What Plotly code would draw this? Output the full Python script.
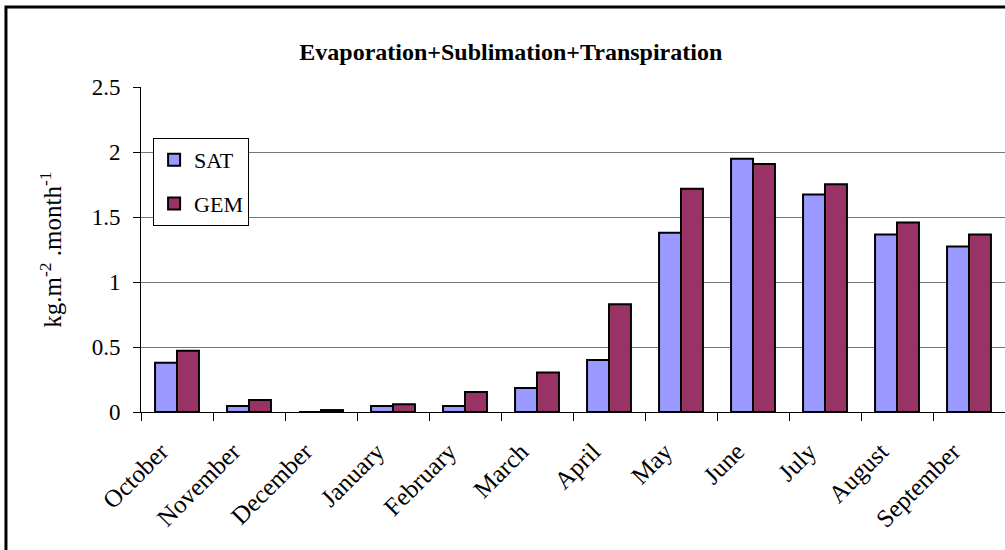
import plotly.graph_objects as go

# monthly totals (kg m-2 month-1)
months = ['October', 'November', 'December', 'January', 'February', 'March',
          'April', 'May', 'June', 'July', 'August', 'September']
sat = [0.38, 0.046, 0.0, 0.046, 0.046, 0.185, 0.40, 1.38, 1.95, 1.675, 1.367, 1.274]
gem = [0.472, 0.092, 0.015, 0.06, 0.154, 0.305, 0.83, 1.72, 1.91, 1.754, 1.459, 1.367]

font_name = 'Liberation Serif'

fig = go.Figure()
fig.add_trace(go.Bar(x=months, y=sat, name='SAT', legendgroup='a',
                     marker=dict(color='#9999FF', line=dict(color='black', width=2))))
fig.add_trace(go.Bar(x=months, y=gem, name='GEM', legendgroup='b',
                     marker=dict(color='#993366', line=dict(color='black', width=2))))

fig.update_layout(
    width=1005, height=550,
    margin=dict(l=141, r=0, t=87, b=138),
    paper_bgcolor='white', plot_bgcolor='white',
    font=dict(family=font_name, size=22, color='black'),
    barmode='group', bargap=0.39, bargroupgap=0,
    title=dict(text='<b>Evaporation+Sublimation+Transpiration</b>',
               x=0.428, xref='paper', xanchor='center',
               y=0.907, yanchor='middle',
               font=dict(family=font_name, size=24)),
    legend=dict(x=0.014, y=0.843, xanchor='left', yanchor='top',
                bgcolor='white', bordercolor='black', borderwidth=1,
                tracegroupgap=12, font=dict(family=font_name, size=22)),
    xaxis=dict(showline=True, linecolor='black', linewidth=1,
               ticks='outside', tickson='boundaries', ticklen=8,
               tickcolor='black', tickangle=-45, showgrid=False,
               tickfont=dict(family=font_name, size=25),
               ticklabelstandoff=14, ticklabelshift=-16),
    yaxis=dict(range=[0, 2.503], tickvals=[0, 0.5, 1, 1.5, 2, 2.5],
               showline=True, linecolor='black',
               linewidth=1, ticks='outside', ticklen=7, tickcolor='black',
               showgrid=True, gridcolor='#777777', gridwidth=1,
               zeroline=False, ticklabelstandoff=8,
               tickfont=dict(family=font_name, size=23)),
)

# y axis title as a rotated annotation so its size holds
fig.add_annotation(text='kg.m<sup>-2</sup> .month<sup>-1</sup>',
                   xref='paper', yref='paper', x=-0.105, y=0.5,
                   xanchor='center', yanchor='middle', textangle=-90,
                   showarrow=False, font=dict(family=font_name, size=25))

# outer chart frame (only top and left edges fall inside the picture)
fig.add_shape(type='rect', xref='paper', yref='paper',
              x0=-0.1563, x1=1.2, y0=-0.7, y1=1.246,
              line=dict(color='black', width=3), layer='below')

fig.write_html("out.html", config={'displayModeBar': False},
               post_script="document.body.style.margin='0';")
